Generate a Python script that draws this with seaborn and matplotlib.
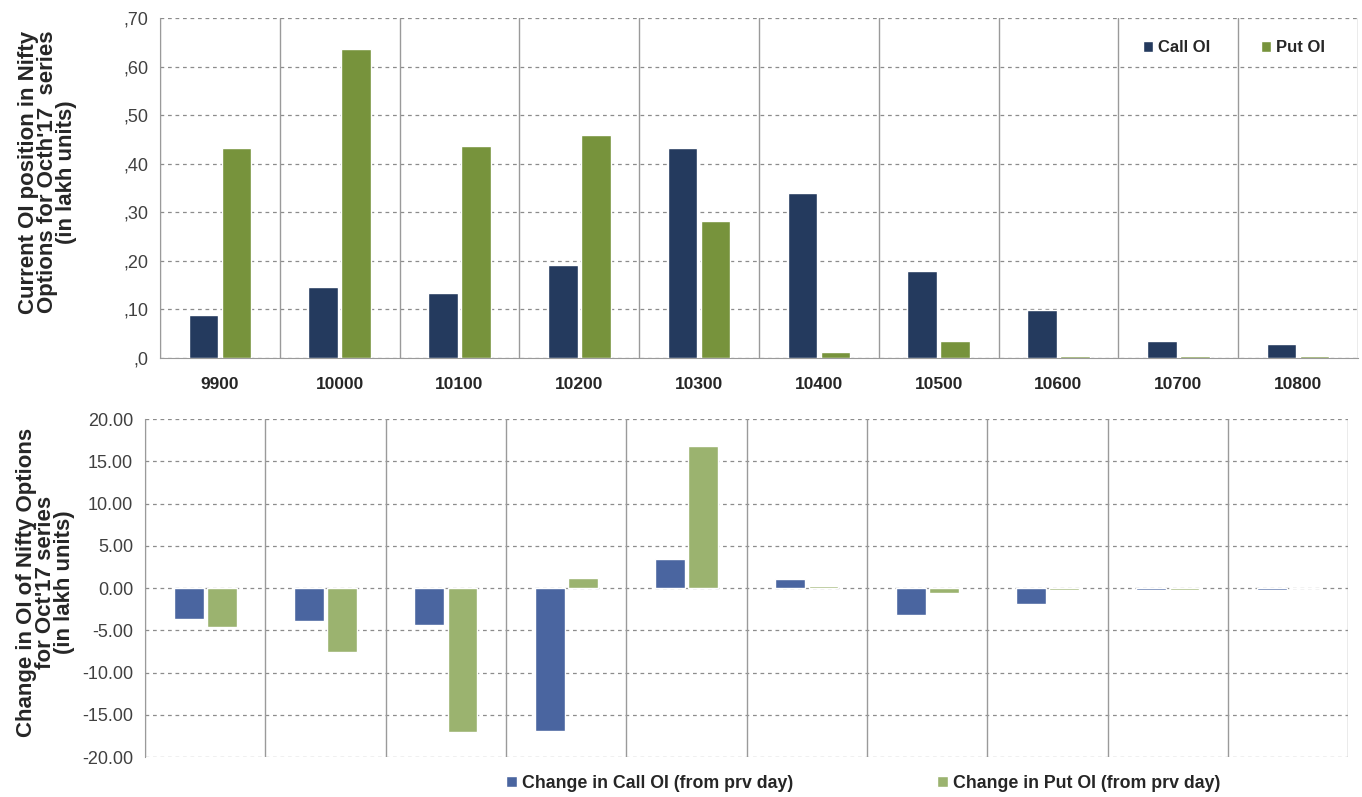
import pandas as pd
import matplotlib.pyplot as plt
import seaborn as sb

strikes = ['9900', '10000', '10100', '10200', '10300', '10400', '10500', '10600', '10700', '10800']

call_oi = [0.088, 0.146, 0.134, 0.191, 0.432, 0.340, 0.180, 0.099, 0.035, 0.029]
put_oi = [0.432, 0.636, 0.436, 0.459, 0.282, 0.012, 0.035, 0.004, 0.004, 0.004]

chg_call = [-3.7, -3.9, -4.3, -16.9, 3.4, 1.1, -3.2, -1.9, -0.2, -0.2]
chg_put = [-4.6, -7.6, -17.0, 1.2, 16.8, 0.3, -0.6, -0.2, -0.2, 0.0]

top_ticks = [0, 0.1, 0.2, 0.3, 0.4, 0.5, 0.6, 0.7]
top_ticklabels = [',0', ',10', ',20', ',30', ',40', ',50', ',60', ',70']
bot_ticks = [-20, -15, -10, -5, 0, 5, 10, 15, 20]

sb.set_style('white')
plt.rcParams['font.family'] = ['Liberation Sans', 'DejaVu Sans']

fig = plt.figure(figsize=(13.62, 7.97), dpi=100)
ax1 = fig.add_axes([0.1175, 0.551, 0.8795, 0.426])
ax2 = fig.add_axes([0.1065, 0.050, 0.8835, 0.424])

df1 = pd.DataFrame({'strike': strikes * 2,
                    'oi': call_oi + put_oi,
                    'type': ['Call OI'] * 10 + ['Put OI'] * 10})
df2 = pd.DataFrame({'strike': strikes * 2,
                    'chg': chg_call + chg_put,
                    'type': ['Change in Call OI (from prv day)'] * 10 + ['Change in Put OI (from prv day)'] * 10})

sb.barplot(data=df1, x='strike', y='oi', hue='type', order=strikes,
           palette=['#243a5e', '#77933c'], width=0.55, gap=0.1,
           saturation=1, ax=ax1, zorder=3)
sb.barplot(data=df2, x='strike', y='chg', hue='type', order=strikes,
           palette=['#4a65a0', '#9bb36f'], width=0.55, gap=0.1,
           saturation=1, ax=ax2, zorder=3)

grid_col = '#8c8c8c'
for ax in (ax1, ax2):
    ax.set_xlim(-0.5, 9.5)
    for i in range(11):
        ax.axvline(i - 0.5, color='#9a9a9a', lw=1.0, zorder=1)
    ax.yaxis.grid(True, linestyle=(0, (3, 3)), color=grid_col, lw=0.9)
    ax.set_axisbelow(True)
    for s in ['top', 'right']:
        ax.spines[s].set_visible(False)
    ax.spines['left'].set_color('#9a9a9a')
    ax.tick_params(axis='y', length=5, color='#9a9a9a', labelsize=13, labelcolor='#404040')
    ax.tick_params(axis='x', length=0)
    ax.set_xlabel('')

ax1.set_ylim(0, 0.7)
ax1.set_yticks(top_ticks)
ax1.set_yticklabels(top_ticklabels)
ax1.spines['bottom'].set_color('#9a9a9a')
ax1.set_xticks(range(10))
ax1.set_xticklabels(strikes, fontweight='bold', fontsize=12.5)
ax1.tick_params(axis='x', pad=14)
ax1.set_ylabel("Current OI position in Nifty\nOptions for Octh'17  series\n(in lakh units)",
               fontsize=16, fontweight='bold', linespacing=0.88)
ax1.yaxis.set_label_coords(-0.069, 0.547)
ax1.legend(loc='upper right', ncol=2, frameon=False, handlelength=0.6, handleheight=0.6,
           handletextpad=0.3, columnspacing=3.05, bbox_to_anchor=(0.985, 0.98),
           prop={'weight': 'bold', 'size': 12})

ax2.set_ylim(-20, 20)
ax2.set_yticks(bot_ticks)
ax2.set_yticklabels(['%.2f' % t for t in bot_ticks])
ax2.spines['bottom'].set_visible(False)
ax2.set_xticks([])
ax2.set_ylabel("Change in OI of Nifty Options\nfor Oct'17 series\n(in lakh units)",
               fontsize=16, fontweight='bold', linespacing=0.88)
ax2.yaxis.set_label_coords(-0.058, 0.518)
ax2.legend(loc='upper center', ncol=2, frameon=False, handlelength=0.6, handleheight=0.6,
           handletextpad=0.3, columnspacing=8.1, bbox_to_anchor=(0.597, -0.005),
           prop={'weight': 'bold', 'size': 12.8})

fig.savefig('out.png', dpi=100)
